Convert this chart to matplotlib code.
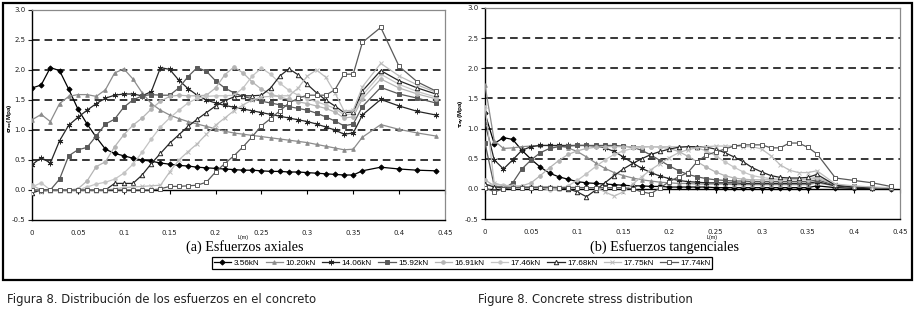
import matplotlib
matplotlib.use('Agg')
import matplotlib.pyplot as plt
from matplotlib.patches import Rectangle
from matplotlib.lines import Line2D

# positions along the beam L(m)
L = [0.00, 0.01, 0.02, 0.03, 0.04, 0.05, 0.06, 0.07, 0.08, 0.09,
     0.10, 0.11, 0.12, 0.13, 0.14, 0.15, 0.16, 0.17, 0.18, 0.19,
     0.20, 0.21, 0.22, 0.23, 0.24, 0.25, 0.26, 0.27, 0.28, 0.29,
     0.30, 0.31, 0.32, 0.33, 0.34, 0.35, 0.36,
     0.38, 0.40, 0.42, 0.44]

loads = ['3.56kN', '10.20kN', '14.06kN', '15.92kN', '16.91kN',
         '17.46kN', '17.68kN', '17.75kN', '17.74kN']

# (a) axial stress sigma_xx (Mpa)
sxx_1 = [1.70, 1.75, 2.04, 1.99, 1.68, 1.35, 1.10, 0.88, 0.68, 0.61,
         0.57, 0.53, 0.50, 0.48, 0.45, 0.43, 0.41, 0.40, 0.38, 0.37,
         0.36, 0.35, 0.34, 0.33, 0.33, 0.32, 0.31, 0.31, 0.30, 0.30,
         0.29, 0.28, 0.27, 0.26, 0.25, 0.25, 0.32,
         0.38, 0.35, 0.33, 0.32]
sxx_2 = [1.17, 1.26, 1.14, 1.44, 1.56, 1.59, 1.59, 1.56, 1.67, 1.95,
         2.02, 1.85, 1.62, 1.44, 1.33, 1.25, 1.19, 1.14, 1.10, 1.06,
         1.02, 0.98, 0.95, 0.93, 0.91, 0.89, 0.87, 0.85, 0.83, 0.81,
         0.79, 0.76, 0.73, 0.70, 0.67, 0.68, 0.88,
         1.09, 1.01, 0.95, 0.90]
sxx_3 = [0.42, 0.54, 0.45, 0.82, 1.08, 1.21, 1.33, 1.44, 1.53, 1.58,
         1.60, 1.60, 1.57, 1.64, 2.04, 2.01, 1.83, 1.69, 1.58, 1.50,
         1.45, 1.41, 1.38, 1.35, 1.32, 1.29, 1.26, 1.23, 1.20, 1.17,
         1.14, 1.10, 1.05, 1.00, 0.93, 0.95, 1.25,
         1.51, 1.40, 1.31, 1.25]
sxx_4 = [0.00, -0.02, 0.00, 0.18, 0.57, 0.67, 0.71, 0.90, 1.10, 1.18,
         1.38, 1.50, 1.57, 1.59, 1.58, 1.58, 1.70, 1.89, 2.04, 1.98,
         1.82, 1.70, 1.62, 1.56, 1.52, 1.48, 1.45, 1.42, 1.39, 1.36,
         1.33, 1.28, 1.22, 1.15, 1.07, 1.10, 1.39,
         1.71, 1.60, 1.53, 1.45]
sxx_5 = [0.08, 0.00, 0.00, 0.00, 0.00, 0.02, 0.15, 0.39, 0.47, 0.72,
         0.92, 1.08, 1.20, 1.35, 1.48, 1.56, 1.58, 1.57, 1.57, 1.58,
         1.70, 1.92, 2.05, 1.95, 1.80, 1.68, 1.60, 1.55, 1.51, 1.47,
         1.44, 1.40, 1.36, 1.30, 1.20, 1.22, 1.52,
         1.85, 1.70, 1.60, 1.52]
sxx_6 = [0.05, 0.12, 0.00, 0.00, 0.00, 0.00, 0.05, 0.10, 0.13, 0.18,
         0.28, 0.43, 0.63, 0.85, 1.05, 1.20, 1.33, 1.45, 1.53, 1.56,
         1.57, 1.57, 1.58, 1.70, 1.90, 2.03, 1.93, 1.78, 1.66, 1.58,
         1.52, 1.47, 1.42, 1.36, 1.25, 1.27, 1.58,
         1.93, 1.76, 1.64, 1.55]
sxx_7 = [-0.05, 0.00, 0.00, 0.00, 0.00, 0.00, 0.00, 0.00, 0.00, 0.11,
         0.11, 0.11, 0.25, 0.44, 0.61, 0.78, 0.92, 1.06, 1.18, 1.29,
         1.40, 1.49, 1.55, 1.57, 1.57, 1.58, 1.70, 1.90, 2.02, 1.92,
         1.76, 1.62, 1.50, 1.40, 1.29, 1.30, 1.65,
         1.99, 1.82, 1.70, 1.60]
sxx_8 = [0.02, -0.03, 0.00, 0.00, 0.00, 0.00, 0.00, 0.00, 0.00, 0.02,
         0.04, 0.05, 0.06, 0.07, 0.08, 0.30, 0.50, 0.64, 0.77, 0.93,
         1.08, 1.20, 1.32, 1.42, 1.50, 1.55, 1.56, 1.57, 1.57, 1.70,
         1.90, 2.00, 1.88, 1.62, 1.32, 1.33, 1.72,
         2.11, 1.90, 1.75, 1.63]
sxx_9 = [0.00, 0.00, 0.00, 0.00, 0.00, 0.00, 0.00, 0.00, 0.00, 0.00,
         0.00, 0.00, 0.00, 0.00, 0.02, 0.06, 0.06, 0.07, 0.08, 0.13,
         0.30, 0.44, 0.57, 0.72, 0.89, 1.07, 1.19, 1.32, 1.45, 1.53,
         1.58, 1.58, 1.58, 1.67, 1.93, 1.93, 2.46,
         2.71, 2.06, 1.80, 1.65]

# (b) shear stress tau_xy (Mpa)
txy_1 = [1.25, 0.75, 0.85, 0.82, 0.64, 0.49, 0.36, 0.26, 0.20, 0.16,
         0.12, 0.10, 0.09, 0.08, 0.07, 0.06, 0.05, 0.05, 0.04, 0.04,
         0.03, 0.03, 0.03, 0.03, 0.03, 0.02, 0.02, 0.02, 0.02, 0.02,
         0.02, 0.02, 0.02, 0.02, 0.02, 0.02, 0.05,
         0.02, 0.01, 0.01, 0.00]
txy_2 = [1.72, 0.80, 0.67, 0.68, 0.70, 0.71, 0.72, 0.72, 0.71, 0.68,
         0.62, 0.53, 0.43, 0.34, 0.27, 0.22, 0.18, 0.15, 0.13, 0.11,
         0.10, 0.09, 0.09, 0.08, 0.08, 0.08, 0.08, 0.07, 0.07, 0.07,
         0.07, 0.07, 0.07, 0.07, 0.07, 0.07, 0.10,
         0.05, 0.03, 0.02, 0.01]
txy_3 = [1.10, 0.48, 0.33, 0.48, 0.64, 0.70, 0.72, 0.72, 0.72, 0.72,
         0.72, 0.72, 0.71, 0.68, 0.62, 0.53, 0.43, 0.34, 0.27, 0.21,
         0.17, 0.14, 0.12, 0.11, 0.10, 0.10, 0.10, 0.10, 0.09, 0.09,
         0.09, 0.09, 0.09, 0.09, 0.09, 0.09, 0.12,
         0.05, 0.03, 0.02, 0.01]
txy_4 = [0.76, 0.05, 0.00, 0.10, 0.33, 0.48, 0.60, 0.67, 0.70, 0.71,
         0.72, 0.72, 0.72, 0.72, 0.72, 0.71, 0.69, 0.64, 0.56, 0.47,
         0.38, 0.30, 0.24, 0.20, 0.17, 0.15, 0.14, 0.13, 0.13, 0.12,
         0.12, 0.12, 0.12, 0.12, 0.12, 0.12, 0.15,
         0.06, 0.04, 0.02, 0.01]
txy_5 = [0.15, 0.05, 0.04, 0.04, 0.05, 0.10, 0.22, 0.35, 0.47, 0.57,
         0.63, 0.67, 0.69, 0.70, 0.70, 0.70, 0.70, 0.70, 0.70, 0.69,
         0.67, 0.62, 0.54, 0.45, 0.36, 0.28, 0.22, 0.18, 0.16, 0.15,
         0.15, 0.15, 0.15, 0.15, 0.15, 0.15, 0.18,
         0.07, 0.04, 0.02, 0.01]
txy_6 = [0.05, 0.08, 0.06, 0.05, 0.04, 0.03, 0.02, -0.02, 0.00, 0.05,
         0.14, 0.25, 0.37, 0.48, 0.57, 0.63, 0.67, 0.69, 0.70, 0.70,
         0.70, 0.70, 0.70, 0.68, 0.63, 0.55, 0.45, 0.36, 0.28, 0.22,
         0.19, 0.17, 0.16, 0.16, 0.16, 0.16, 0.20,
         0.07, 0.04, 0.02, 0.01]
txy_7 = [0.08, 0.03, 0.03, 0.03, 0.03, 0.03, 0.03, 0.03, 0.02, 0.00,
         -0.05, -0.13, -0.02, 0.10, 0.22, 0.33, 0.42, 0.50, 0.57, 0.62,
         0.66, 0.69, 0.70, 0.70, 0.69, 0.66, 0.60, 0.53, 0.45, 0.35,
         0.28, 0.22, 0.19, 0.18, 0.18, 0.19, 0.24,
         0.06, 0.03, 0.02, 0.01]
txy_8 = [1.38, 0.10, 0.05, 0.04, 0.03, 0.03, 0.03, 0.03, 0.03, 0.03,
         0.03, 0.02, 0.02, -0.05, -0.12, -0.05, 0.08, 0.20, 0.32, 0.42,
         0.52, 0.60, 0.65, 0.68, 0.70, 0.71, 0.71, 0.71, 0.70, 0.70,
         0.66, 0.55, 0.40, 0.31, 0.27, 0.27, 0.30,
         0.08, 0.05, 0.03, 0.02]
txy_9 = [0.02, -0.05, 0.00, 0.02, 0.02, 0.02, 0.02, 0.02, 0.02, 0.02,
         0.02, 0.02, 0.02, 0.02, 0.02, 0.02, 0.00, -0.05, -0.08, 0.02,
         0.12, 0.20, 0.27, 0.45, 0.56, 0.61, 0.66, 0.71, 0.73, 0.73,
         0.73, 0.68, 0.68, 0.76, 0.76, 0.69, 0.58,
         0.18, 0.14, 0.10, 0.04]

x_ticks = [0, 0.05, 0.1, 0.15, 0.2, 0.25, 0.3, 0.35, 0.4, 0.45]
x_ticklabels = ['0', '0.05', '0.1', '0.15', '0.2', '0.25', '0.3', '0.35', '0.4', '0.45']
y_ticks = [-0.5, 0.0, 0.5, 1.0, 1.5, 2.0, 2.5, 3.0]

# line colour, marker, marker face, marker size
styles = [
    ('#000000', 'D', '#000000', 2.6),
    ('#8c8c8c', '^', '#8c8c8c', 2.6),
    ('#262626', (6, 2, 0), '#262626', 4.0),
    ('#5a5a5a', 's', '#5a5a5a', 2.6),
    ('#b4b4b4', 'o', '#b4b4b4', 2.6),
    ('#c4c4c4', 'o', '#c4c4c4', 2.4),
    ('#262626', '^', 'white', 3.2),
    ('#bcbcbc', 'x', '#bcbcbc', 3.2),
    ('#5a5a5a', 's', 'white', 3.4),
]

W, H = 922, 312
fig = plt.figure(figsize=(W / 100, H / 100), dpi=100)


def px_box(x0, y0, x1, y1):
    return [x0 / W, 1 - y1 / H, (x1 - x0) / W, (y1 - y0) / H]


def setup(ax):
    ax.set_xlim(0, 0.45)
    ax.set_ylim(-0.5, 3.0)
    ax.set_yticks(y_ticks)
    ax.set_yticklabels(['%.1f' % v for v in y_ticks])
    ax.set_xticks(x_ticks)
    ax.set_xticklabels(x_ticklabels)
    for v in [0.5, 1.0, 1.5, 2.0, 2.5]:
        ax.axhline(v, color='black', lw=1.1, dashes=(5, 3.2), zorder=1)
    ax.axhline(0, color='black', lw=1.0, zorder=1)
    for s in ['top', 'right']:
        ax.spines[s].set_color('#8a8a8a')
        ax.spines[s].set_linewidth(0.9)
    ax.spines['left'].set_linewidth(1.0)
    ax.spines['bottom'].set_linewidth(1.0)
    ax.tick_params(axis='both', labelsize=5, colors='#222222', length=3, width=0.8, pad=1.5)
    ax.tick_params(axis='x', length=0, pad=7)
    # tick marks on the zero axis line
    sec = ax.secondary_xaxis(0.5 / 3.5)
    sec.set_xticks(x_ticks)
    sec.set_xticklabels([])
    sec.spines['bottom'].set_visible(False)
    sec.tick_params(length=3, width=0.8, direction='out', color='black')


def draw(ax, series):
    for ys, (c, m, mf, ms) in zip(series, styles):
        ax.plot(L, ys, color=c, lw=0.9, marker=m, markersize=ms,
                markerfacecolor=mf, markeredgecolor=c, markeredgewidth=0.7, zorder=3)


ax1 = fig.add_axes(px_box(32, 10, 445, 220))
setup(ax1)
draw(ax1, [sxx_1, sxx_2, sxx_3, sxx_4, sxx_5, sxx_6, sxx_7, sxx_8, sxx_9])

ax2 = fig.add_axes(px_box(485, 8, 900, 219))
setup(ax2)
draw(ax2, [txy_1, txy_2, txy_3, txy_4, txy_5, txy_6, txy_7, txy_8, txy_9])

# axis labels
fig.text(10 / W, 1 - 118 / H, r'$\mathbf{\sigma}_{\mathbf{xx}}$(Mpa)', rotation=90,
         ha='center', va='center', fontsize=4.6, family='Liberation Sans', weight='bold')
fig.text(462 / W, 1 - 114 / H, r'$\mathbf{\tau}_{\mathbf{xy}}$(Mpa)', rotation=90,
         ha='center', va='center', fontsize=4.6, family='Liberation Sans', weight='bold')

fig.text(243 / W, 1 - 238 / H, 'L(m)', ha='center', va='center', fontsize=3.8, family='Liberation Sans')
fig.text(712 / W, 1 - 238 / H, 'L(m)', ha='center', va='center', fontsize=3.8, family='Liberation Sans')

fig.text(245 / W, 1 - 247 / H, '(a) Esfuerzos axiales', ha='center', va='center',
         fontsize=10.2, family='Liberation Serif')
fig.text(665 / W, 1 - 247 / H, '(b) Esfuerzos tangenciales', ha='center', va='center',
         fontsize=10.2, family='Liberation Serif')

# legend
handles = [Line2D([], [], color=c, lw=0.9, marker=m, markersize=ms, markerfacecolor=mf,
                  markeredgecolor=c, markeredgewidth=0.7) for (c, m, mf, ms) in styles]
leg = fig.legend(handles, loads, loc='center', bbox_to_anchor=(462 / W, 1 - 263 / H),
                 ncol=9, prop={'family': 'Liberation Sans', 'size': 5.9},
                 handlelength=2.1, handletextpad=0.3, columnspacing=0.8,
                 borderpad=0.25, frameon=True, fancybox=False, framealpha=1)
leg.get_frame().set_edgecolor('black')
leg.get_frame().set_linewidth(0.9)

# outer frame
fig.patches.append(Rectangle((3 / W, 1 - 280 / H), 909 / W, 277 / H, transform=fig.transFigure,
                             fill=False, edgecolor='black', lw=1.6))

fig.text(7 / W, 1 - 299 / H, 'Figura 8. Distribución de los esfuerzos en el concreto',
         ha='left', va='center', fontsize=8.4, family='DejaVu Sans', color='#222222')
fig.text(478 / W, 1 - 299 / H, 'Figure 8. Concrete stress distribution',
         ha='left', va='center', fontsize=8.4, family='DejaVu Sans', color='#222222')

fig.savefig('out.png', dpi=100)
